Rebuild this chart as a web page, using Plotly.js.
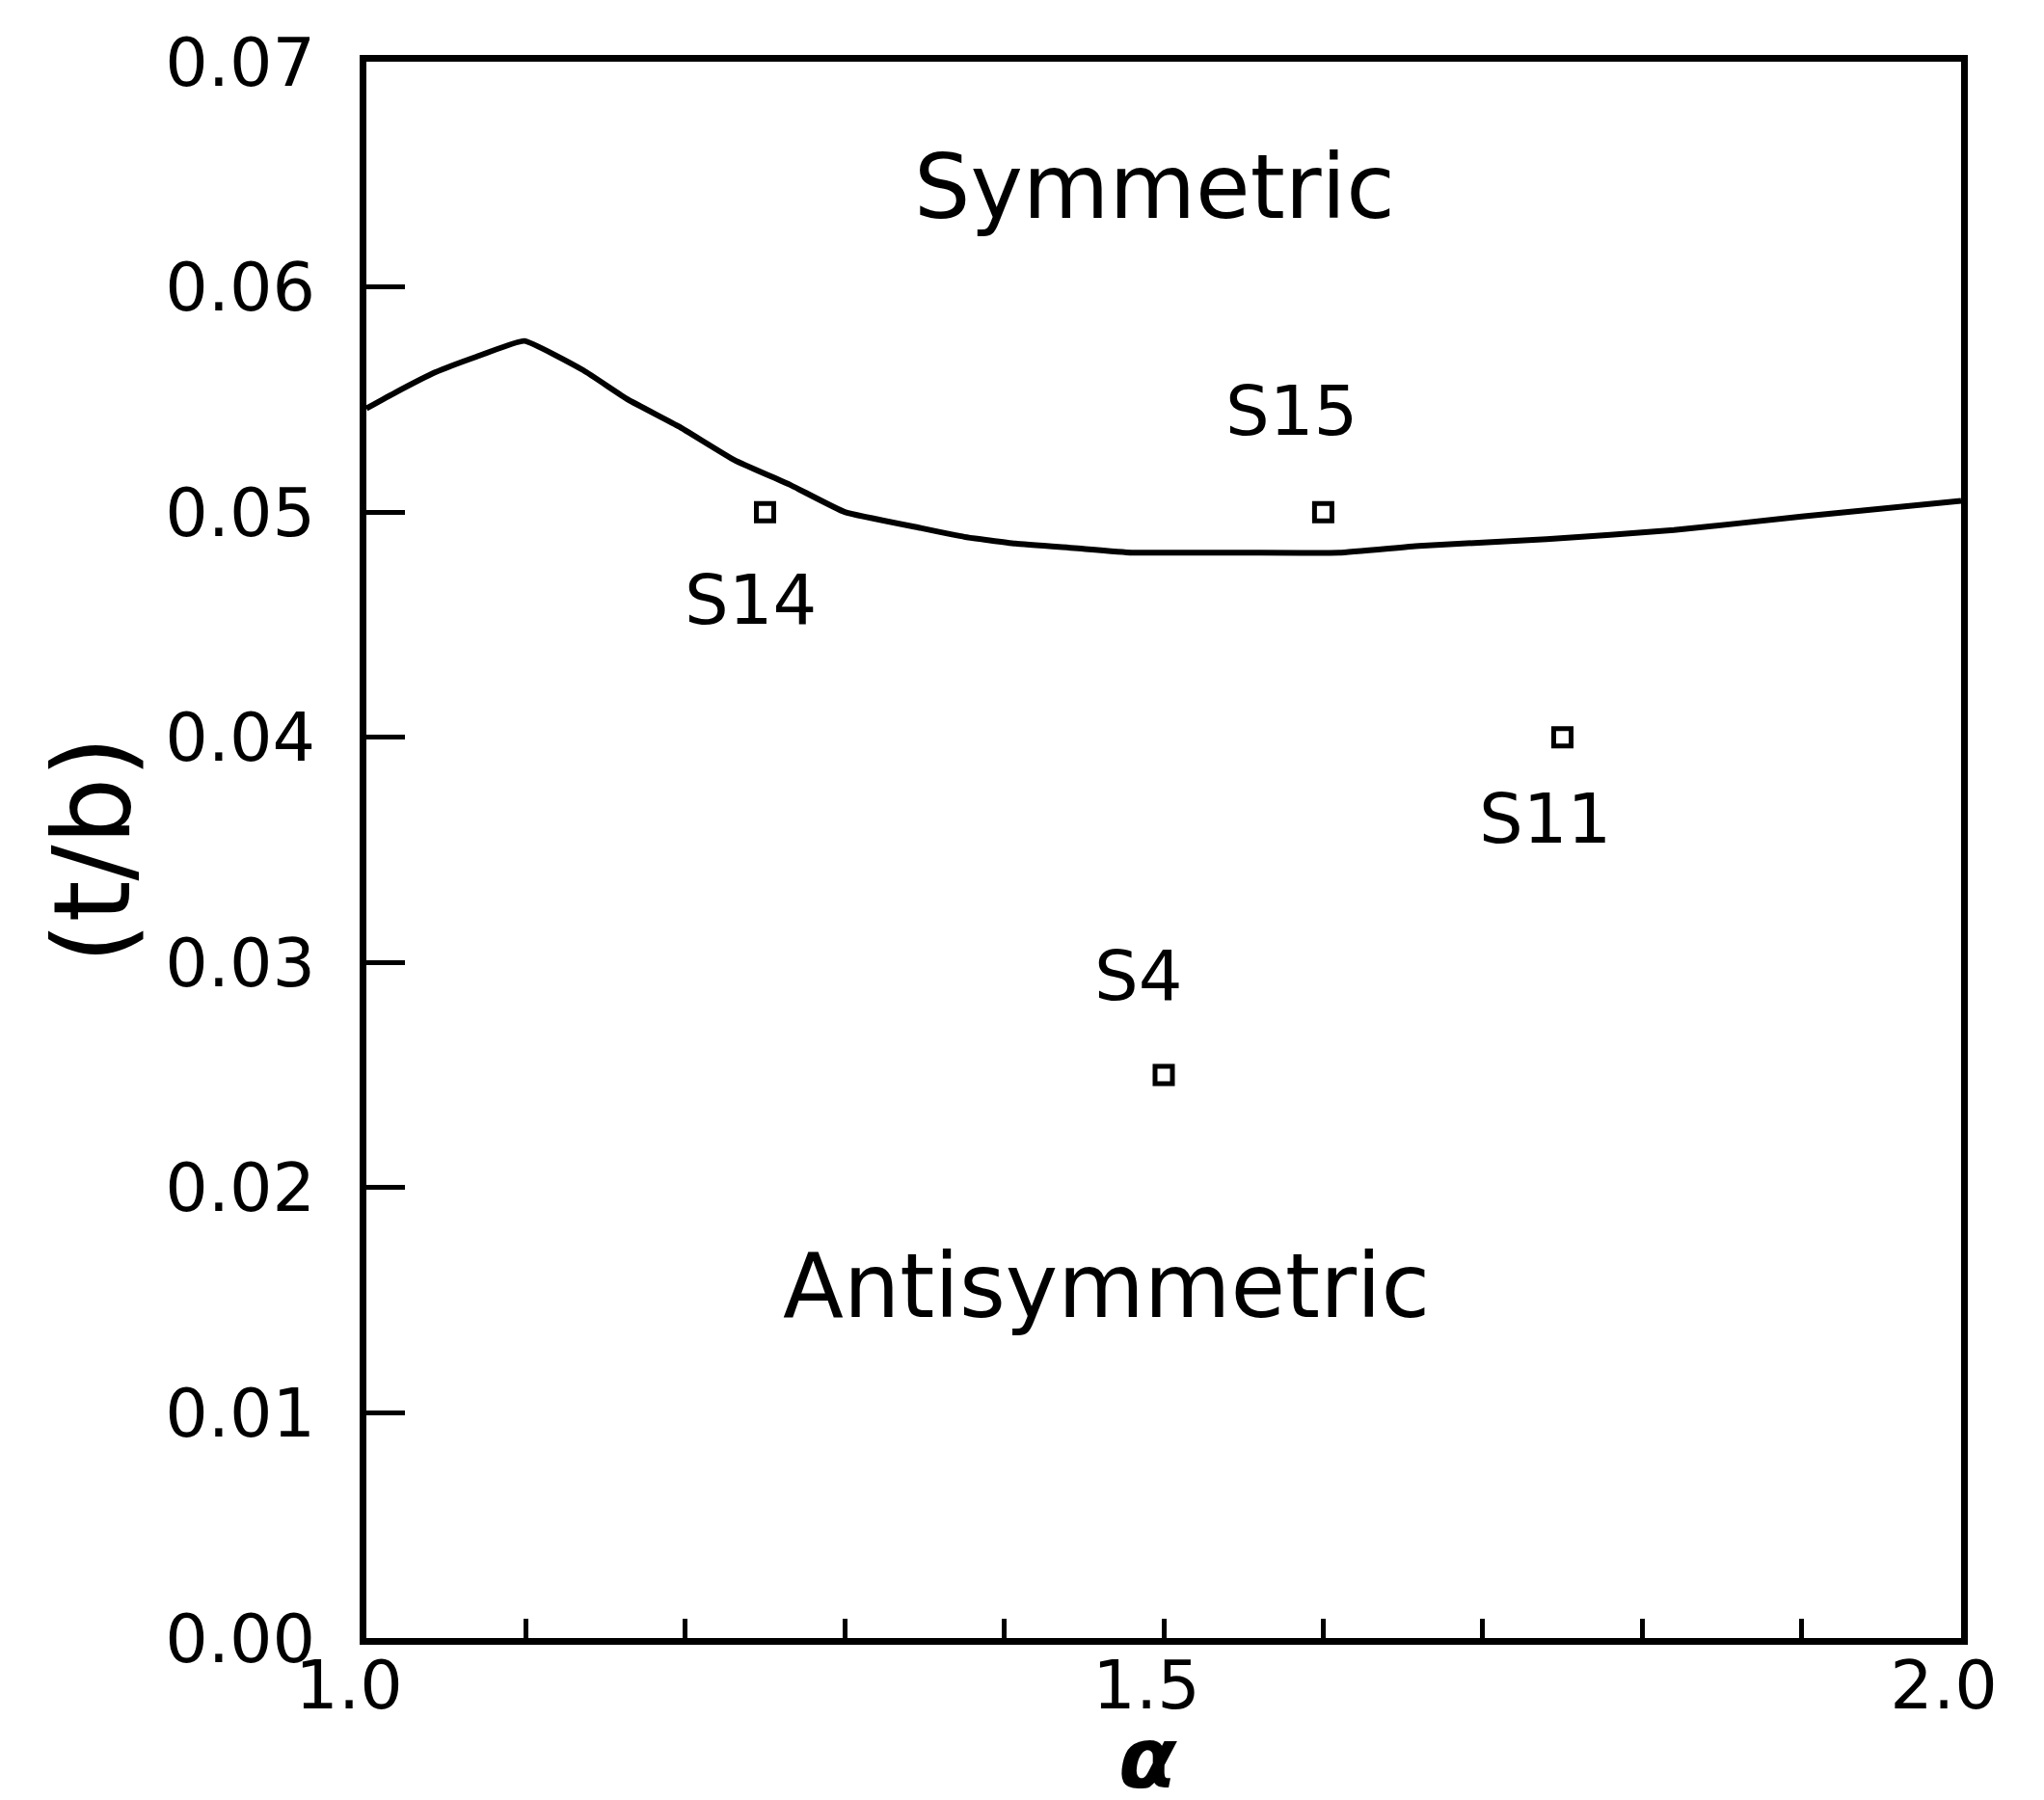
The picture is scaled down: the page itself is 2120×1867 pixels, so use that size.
<!DOCTYPE html>
<html>
<head>
<meta charset="utf-8">
<script src="https://cdn.plot.ly/plotly-3.0.1.min.js"></script>
<style>html,body{margin:0;padding:0;background:#fff;}</style>
</head>
<body>
<div id="chart" style="width:2120px;height:1867px;"></div>
<script>
// Boundary curve between symmetric and antisymmetric modes
const curveAlpha = [1.0, 1.018, 1.043, 1.069, 1.099, 1.136, 1.164, 1.196, 1.231, 1.266, 1.300, 1.347, 1.375, 1.407, 1.444, 1.480, 1.550, 1.610, 1.660, 1.740, 1.820, 1.900, 2.0];
const curveTb    = [0.0546, 0.0553, 0.0562, 0.0569, 0.0576, 0.0563, 0.0550, 0.0538, 0.0523, 0.0512, 0.0500, 0.0493, 0.0489, 0.0486, 0.0484, 0.0482, 0.0482, 0.0482, 0.0485, 0.0488, 0.0492, 0.0498, 0.0505];

// Specimens
const specNames = ["S14", "S15", "S11", "S4"];
const specAlpha = [1.25, 1.60, 1.75, 1.50];
const specTb    = [0.050, 0.050, 0.040, 0.025];
// label anchor positions for the specimen names
const labelAlpha = [1.241, 1.580, 1.739, 1.484];
const labelTb    = [0.0461, 0.0545, 0.0364, 0.0294];

// Region labels
const regionNames = ["Symmetric", "Antisymmetric"];
const regionAlpha = [1.494, 1.464];
const regionTb    = [0.0644, 0.0156];

// Axis ticks and titles
const xTickVals = [1.0, 1.5, 2.0];
const xTickText = ["1.0", "1.5", "2.0"];
const yTickVals = [0, 0.01, 0.02, 0.03, 0.04, 0.05, 0.06, 0.07];
const yTickText = ["0.00", "0.01", "0.02", "0.03", "0.04", "0.05", "0.06", "0.07"];
const xTitle = "α";
const yTitle = "(t/b)";

const FONT = "DejaVu Sans, Liberation Sans, sans-serif";

const traces = [
  {
    x: curveAlpha, y: curveTb, type: "scatter", mode: "lines",
    line: {color: "#000", width: 6, shape: "spline", smoothing: 0.35},
    hoverinfo: "skip", showlegend: false
  },
  {
    x: specAlpha, y: specTb, type: "scatter", mode: "markers",
    text: specNames,
    marker: {symbol: "square-open", size: 18, color: "#000", line: {color: "#000", width: 5}},
    showlegend: false
  }
];

const annotations = [];
for (let i = 0; i < specNames.length; i++) {
  annotations.push({
    x: labelAlpha[i], y: labelTb[i], xref: "x", yref: "y",
    text: specNames[i], showarrow: false, xanchor: "center", yanchor: "middle",
    font: {family: FONT, size: 72, color: "#000"}
  });
}
for (let i = 0; i < regionNames.length; i++) {
  annotations.push({
    x: regionAlpha[i], y: regionTb[i], xref: "x", yref: "y",
    text: regionNames[i], showarrow: false, xanchor: "center", yanchor: "middle",
    font: {family: FONT, size: 92, color: "#000"}
  });
}
// x-axis title (alpha), placed below the tick labels
annotations.push({
  x: 0.49, y: -0.076, xref: "paper", yref: "paper",
  text: "<b><i>" + xTitle + "</i></b>", showarrow: false, xanchor: "center", yanchor: "middle",
  font: {family: FONT, size: 88, color: "#000"}
});

const layout = {
  width: 2120, height: 1867,
  margin: {l: 380, r: 86, t: 64, b: 168, pad: 0},
  paper_bgcolor: "#fff", plot_bgcolor: "#fff",
  font: {family: FONT, color: "#000"},
  showlegend: false,
  xaxis: {
    range: [1.0, 2.0],
    tickvals: xTickVals, ticktext: xTickText,
    ticks: "inside", ticklen: 20, tickwidth: 5, tickcolor: "#000",
    minor: {dtick: 0.1, tick0: 1.0, ticks: "inside", ticklen: 20, tickwidth: 5, tickcolor: "#000", showgrid: false},
    showline: true, linewidth: 7, linecolor: "#000", mirror: true,
    showgrid: false, zeroline: false,
    tickfont: {family: FONT, size: 70, color: "#000"},
    ticklabelstandoff: -18, ticklabelshift: -18
  },
  yaxis: {
    range: [0, 0.07],
    tickvals: yTickVals, ticktext: yTickText,
    ticks: "inside", ticklen: 40, tickwidth: 5, tickcolor: "#000",
    showline: true, linewidth: 7, linecolor: "#000", mirror: true,
    showgrid: false, zeroline: false,
    tickfont: {family: FONT, size: 70, color: "#000"},
    ticklabelstandoff: 32,
    title: {text: yTitle, font: {family: FONT, size: 110, color: "#000"}, standoff: 2}
  },
  annotations: annotations
};

Plotly.newPlot("chart", traces, layout, {staticPlot: true, displayModeBar: false});
</script>
</body>
</html>
